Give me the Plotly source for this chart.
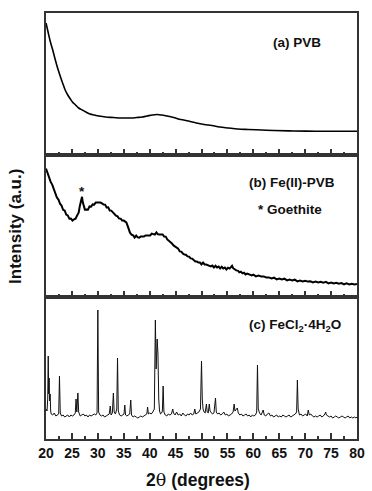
import plotly.graph_objects as go

# ---------------- data ----------------
# (a) PVB
x_a = [20.0, 20.4, 20.8, 21.3, 21.8, 22.3, 22.8, 23.2, 23.7, 24.2, 24.7, 25.1, 25.7, 26.3,
       27.0, 27.7, 28.5, 29.3, 30.2, 31.5, 33.0, 34.5, 35.5, 36.5, 37.5, 38.5, 39.5, 40.5,
       41.4, 42.3, 43.3, 44.6, 46.0, 47.5, 49.0, 50.5, 52.0, 53.5, 55.2, 57.0, 59.0, 61.6,
       64.0, 67.8, 72.0, 76.0, 80.0]
y_a = [132, 123, 114, 105, 95, 86, 78, 72, 65, 60, 56, 53, 50, 47,
       45, 43, 41, 40, 39, 38, 37.5, 37, 37, 37, 37.5, 38, 39, 40,
       40.5, 40, 39, 37.5, 35.5, 34, 32, 30.5, 29.5, 28, 27, 26, 25.5, 25,
       24.5, 24, 23.8, 23.8, 23.8]

# (b) Fe(II)-PVB
x_b = [20.0, 20.3, 20.6, 20.9, 21.2, 21.5, 21.8, 22.1, 22.4, 22.7, 23.0, 23.3, 23.6, 23.9,
       24.2, 24.5, 24.8, 25.1, 25.4, 25.7, 26.0, 26.3, 26.55, 26.8, 26.95, 27.1, 27.3, 27.5,
       27.8, 28.1, 28.4, 28.7, 29.0, 29.3, 29.6, 29.9, 30.2, 30.5, 30.8, 31.1, 31.4, 31.7,
       32.0, 32.3, 32.6, 32.9, 33.2, 33.5, 33.8, 34.1, 34.4, 34.7, 35.0, 35.3, 35.5, 35.7,
       35.9, 36.2, 36.5, 36.8, 37.1, 37.4, 37.7, 38.0, 38.3, 38.6, 38.9, 39.2, 39.5, 39.8,
       40.1, 40.4, 40.7, 41.0, 41.3, 41.6, 41.9, 42.2, 42.5, 42.8, 43.1, 43.4, 43.7, 44.0,
       44.3, 44.6, 44.9, 45.2, 45.5, 45.8, 46.1, 46.4, 46.7, 47.0, 47.3, 47.6, 47.9, 48.2,
       48.5, 48.8, 49.1, 49.4, 49.7, 50.0, 50.3, 50.6, 50.9, 51.2, 51.5, 51.8, 52.1, 52.4,
       52.7, 53.0, 53.3, 53.6, 53.9, 54.2, 54.5, 54.8, 55.1, 55.4, 55.7, 55.9, 56.1, 56.4,
       56.7, 57.0, 57.3, 57.6, 57.9, 58.2, 58.5, 58.8, 59.1, 59.4, 59.7, 60.0, 60.5, 61.0,
       61.5, 62.0, 62.5, 63.0, 63.5, 64.0, 64.5, 65.0, 65.5, 66.0, 66.5, 67.0, 67.5, 68.0,
       68.5, 69.0, 69.5, 70.0, 70.5, 71.0, 71.5, 72.0, 72.5, 73.0, 73.5, 74.0, 74.5, 75.0,
       75.5, 76.0, 76.5, 77.0, 77.5, 78.0, 78.5, 79.0, 79.5, 80.0]
y_b = [128.5, 123.2, 119.6, 115.1, 112.4, 107.5, 104.6, 99.4, 97.5, 93.3, 91.4, 87.2, 86.5, 82.4,
       81.6, 78.3, 78.5, 76.4, 77.6, 78.3, 81.5, 84.4, 91.6, 98.5, 100.2, 94.6, 90.5, 87.4,
       87.6, 87.3, 90.6, 90.3, 92.6, 92.4, 94.5, 94.6, 94.5, 94.4, 93.6, 92.5, 92.4, 89.5,
       89.6, 86.5, 86.4, 84.5, 83.6, 81.4, 80.6, 78.5, 78.4, 76.5, 76.4, 75.2, 74.6, 71.8,
       68.0, 64.3, 62.4, 61.6, 59.5, 61.4, 59.6, 59.4, 60.6, 60.5, 60.4, 61.5, 61.4, 61.6,
       61.5, 63.4, 62.6, 62.4, 64.5, 62.6, 62.5, 62.4, 62.6, 60.5, 60.4, 57.6, 56.5, 54.6,
       53.5, 51.6, 50.5, 48.6, 48.4, 45.6, 45.4, 43.5, 42.4, 42.3, 40.6, 40.4, 38.6, 38.4,
       36.5, 35.5, 35.6, 34.4, 34.5, 32.6, 34.4, 32.5, 32.4, 31.6, 31.4, 30.6, 31.4, 29.6,
       31.2, 29.6, 30.4, 28.6, 30.3, 28.6, 29.4, 27.6, 29.3, 28.4, 30.0, 31.2, 28.8, 27.4,
       26.6, 26.4, 24.7, 25.4, 23.6, 24.3, 22.6, 23.4, 22.6, 22.4, 21.6, 22.3, 20.6, 21.4,
       20.5, 20.6, 19.5, 19.6, 18.5, 19.3, 17.6, 18.4, 17.5, 18.3, 16.6, 17.4, 16.5, 17.3,
       15.6, 16.4, 15.5, 16.3, 15.4, 15.7, 14.6, 15.4, 14.6, 15.3, 14.4, 15.2, 13.6, 14.4,
       13.5, 14.3, 13.4, 14.0, 12.7, 13.6, 12.6, 13.3, 12.5, 13.0]

# (c) FeCl2·4H2O
x_c = [20.0, 20.2, 20.33, 20.43, 20.52, 20.6, 20.68, 20.8, 20.9, 21.0, 21.3, 21.6, 21.9, 22.2,
       22.45, 22.6, 22.75, 23.0, 23.3, 23.6, 23.9, 24.2, 24.5, 24.8, 25.1, 25.4, 25.65, 25.8,
       25.95, 26.15, 26.3, 26.6, 26.9, 27.2, 27.5, 27.8, 28.1, 28.4, 28.7, 29.0, 29.3, 29.6,
       29.85, 30.0, 30.15, 30.4, 30.7, 31.0, 31.3, 31.6, 31.9, 32.2, 32.4, 32.55, 32.8, 33.0,
       33.15, 33.4, 33.65, 33.8, 33.95, 34.2, 34.5, 34.8, 35.05, 35.2, 35.35, 35.6, 35.9, 36.15,
       36.35, 36.5, 36.8, 37.1, 37.4, 37.7, 38.0, 38.3, 38.6, 38.9, 39.2, 39.45, 39.6, 39.75,
       40.0, 40.3, 40.6, 40.9, 41.1, 41.25, 41.45, 41.6, 41.75, 41.9, 42.1, 42.3, 42.45, 42.6,
       42.75, 43.0, 43.3, 43.6, 43.9, 44.2, 44.45, 44.6, 44.9, 45.2, 45.5, 45.8, 46.1, 46.4,
       46.7, 47.0, 47.3, 47.6, 47.9, 48.2, 48.5, 48.7, 48.9, 49.2, 49.5, 49.8, 50.0, 50.15,
       50.3, 50.5, 50.7, 50.95, 51.1, 51.3, 51.5, 51.65, 51.85, 52.1, 52.4, 52.7, 52.85, 53.1,
       53.4, 53.7, 54.0, 54.3, 54.6, 54.9, 55.2, 55.5, 55.8, 56.1, 56.3, 56.45, 56.7, 56.9,
       57.1, 57.4, 57.7, 58.0, 58.3, 58.6, 58.9, 59.2, 59.5, 59.8, 60.1, 60.4, 60.65, 60.8,
       60.95, 61.2, 61.5, 61.7, 61.9, 62.1, 62.4, 62.7, 63.0, 63.3, 63.6, 63.9, 64.2, 64.5,
       64.8, 65.1, 65.4, 65.7, 66.0, 66.3, 66.6, 66.9, 67.2, 67.5, 67.8, 68.1, 68.35, 68.5,
       68.65, 68.9, 69.2, 69.5, 69.8, 70.1, 70.4, 70.6, 70.8, 71.1, 71.4, 71.7, 72.0, 72.3,
       72.6, 72.9, 73.2, 73.5, 73.8, 73.95, 74.1, 74.4, 74.7, 75.0, 75.3, 75.6, 75.9, 76.2,
       76.5, 76.8, 77.1, 77.4, 77.7, 78.0, 78.3, 78.6, 78.9, 79.2, 79.5, 79.8, 80.0]
y_c = [30, 28, 40, 83, 45, 61, 38, 45, 28, 25, 24, 26, 23, 24,
       25, 63, 26, 23, 24, 22, 23, 24, 22, 24, 23, 24, 26, 40,
       27, 46, 27, 23, 24, 25, 23, 24, 22, 24, 23, 24, 25, 24,
       26, 129, 27, 24, 23, 24, 22, 23, 24, 25, 33, 24, 26, 46,
       27, 25, 30, 81, 28, 24, 23, 24, 25, 34, 24, 23, 24, 25,
       39, 24, 22, 23, 22, 21, 22, 23, 22, 23, 24, 25, 32, 25,
       26, 25, 27, 30, 119, 70, 100, 85, 40, 28, 25, 26, 28, 53,
       27, 24, 23, 25, 24, 25, 30, 26, 24, 27, 24, 25, 23, 26,
       24, 23, 25, 24, 26, 24, 25, 30, 25, 26, 27, 30, 78, 40,
       30, 27, 26, 35, 27, 26, 35, 28, 27, 25, 26, 41, 27, 25,
       26, 24, 25, 27, 24, 25, 23, 24, 25, 27, 35, 28, 30, 31,
       26, 24, 25, 23, 24, 25, 23, 24, 22, 24, 23, 24, 27, 74,
       30, 26, 24, 27, 29, 24, 23, 25, 26, 23, 24, 22, 23, 24,
       22, 23, 22, 24, 23, 22, 23, 24, 22, 23, 24, 25, 27, 59,
       30, 24, 25, 23, 24, 25, 23, 29, 24, 25, 23, 22, 23, 22,
       23, 24, 22, 23, 25, 27, 24, 23, 22, 23, 21, 22, 23, 22,
       21, 22, 23, 22, 21, 22, 23, 21, 22, 21, 22, 21, 22]

tick_vals = [20, 25, 30, 35, 40, 45, 50, 55, 60, 65, 70, 75, 80]
tick_text = [str(v) for v in tick_vals]

panel_labels = ["(a) PVB", "(b) Fe(II)-PVB", "(c) FeCl<sub>2</sub>·4H<sub>2</sub>O"]

# ---------------- figure ----------------
FONT = "Liberation Sans, Arial, sans-serif"
LINE_COL = "#333333"

fig = go.Figure()
fig.add_trace(go.Scatter(x=x_c, y=y_c, xaxis="x", yaxis="y", mode="lines",
                         line=dict(color="#111111", width=1), showlegend=False))
fig.add_trace(go.Scatter(x=x_b, y=y_b, xaxis="x2", yaxis="y2", mode="lines",
                         line=dict(color="#000000", width=2), showlegend=False))
fig.add_trace(go.Scatter(x=x_a, y=y_a, xaxis="x3", yaxis="y3", mode="lines",
                         line=dict(color="#000000", width=1.6, shape="spline"), showlegend=False))

def xax(anchor, labels):
    return dict(anchor=anchor, range=[20, 80], tickvals=tick_vals, ticktext=tick_text,
                showticklabels=labels, ticks="inside", ticklen=6, tickwidth=1.5,
                tickcolor=LINE_COL, showline=True, linecolor=LINE_COL, linewidth=1.5,
                mirror=True, showgrid=False, zeroline=False,
                tickfont=dict(family=FONT, size=14, color="#111111", weight="bold"),
                minor=dict(ticks="inside", ticklen=3, tickwidth=1.5, tickcolor=LINE_COL,
                           tick0=22.5, dtick=5, showgrid=False))

def yax(domain):
    return dict(domain=domain, range=[0, 142], showticklabels=False, ticks="",
                showline=True, linecolor=LINE_COL, linewidth=1.5, mirror=True,
                showgrid=False, zeroline=False)

fig.update_layout(
    width=372, height=491,
    margin=dict(l=46, r=7, t=13, b=52),
    paper_bgcolor="white", plot_bgcolor="white",
    xaxis=xax("y", True), yaxis=yax([0, 1/3]),
    xaxis2=xax("y2", False), yaxis2=yax([1/3, 2/3]),
    xaxis3=xax("y3", False), yaxis3=yax([2/3, 1]),
)

lab_font = dict(family=FONT, size=13.5, color="#111111", weight="bold")
fig.add_annotation(x=63.4, y=113, xref="x3", yref="y3", text=panel_labels[0],
                   showarrow=False, xanchor="left", yanchor="middle", font=lab_font)
fig.add_annotation(x=58.7, y=115, xref="x2", yref="y2", text=panel_labels[1],
                   showarrow=False, xanchor="left", yanchor="middle", font=lab_font)
fig.add_annotation(x=60.6, y=88, xref="x2", yref="y2", text="* Goethite",
                   showarrow=False, xanchor="left", yanchor="middle", font=lab_font)
fig.add_annotation(x=27.0, y=106, xref="x2", yref="y2", text="*",
                   showarrow=False, xanchor="center", yanchor="middle", font=lab_font)
fig.add_annotation(x=58.7, y=114, xref="x", yref="y", text=panel_labels[2],
                   showarrow=False, xanchor="left", yanchor="middle", font=lab_font)

# axis titles
fig.add_annotation(x=0.49, y=-0.096, xref="paper", yref="paper",
                   text="2<span style='font-family:DejaVu Serif;font-weight:normal'>θ</span> (degrees)",
                   showarrow=False, xanchor="center", yanchor="middle",
                   font=dict(family=FONT, size=17.5, color="#111111", weight="bold"))
fig.add_annotation(x=-0.1, y=0.5, xref="paper", yref="paper", text="Intensity (a.u.)",
                   textangle=-90, showarrow=False, xanchor="center", yanchor="middle",
                   font=dict(family=FONT, size=17, color="#111111", weight="bold"))

fig.write_html("out.html")
